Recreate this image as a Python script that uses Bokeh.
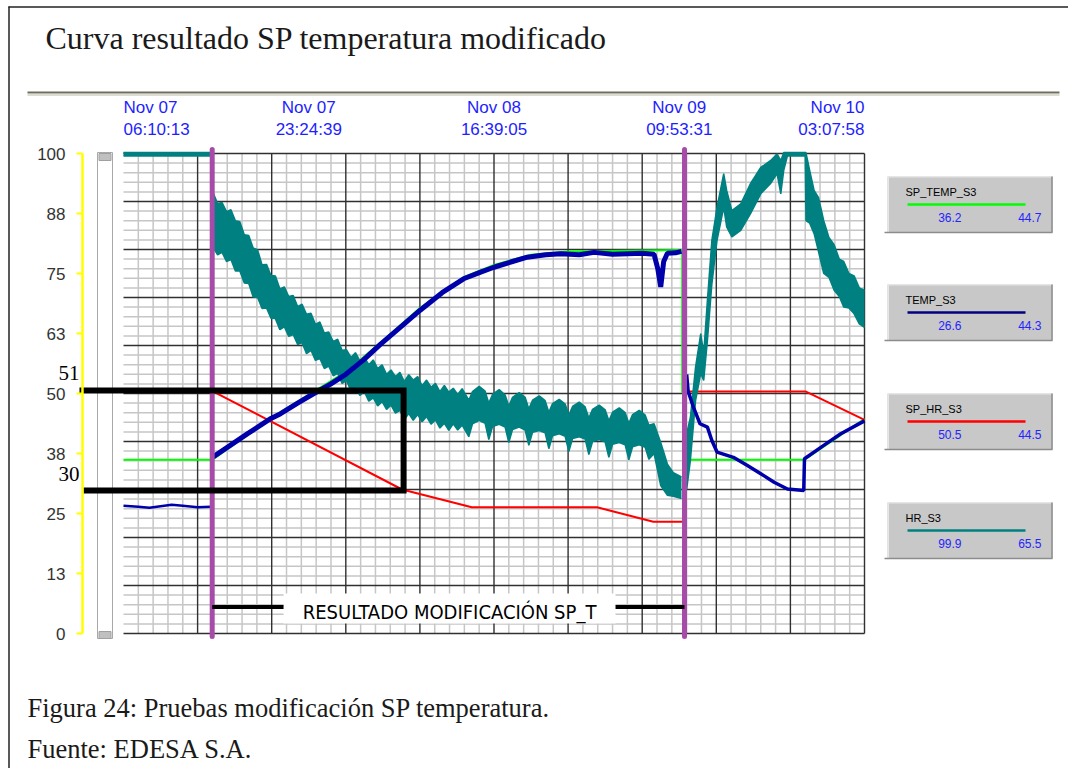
import numpy as np
from bokeh.plotting import figure
from bokeh.models import Range1d, LinearAxis, FixedTicker, NumeralTickFormatter
from bokeh.core.properties import value
from bokeh.embed import file_html
from bokeh.resources import INLINE

# ---------------- data ----------------
TITLE = "Curva resultado SP temperatura modificado"
CAPTION = "Figura 24: Pruebas modificación SP temperatura."
SOURCE = "Fuente: EDESA S.A."

# time axis (grid units 0..10), label positions and texts
TIME_POS = [0, 2.5, 5, 7.5, 10]
TIME_LABELS = ["Nov 07\n06:10:13", "Nov 07\n23:24:39", "Nov 08\n16:39:05",
               "Nov 09\n09:53:31", "Nov 10\n03:07:58"]
Y_TICKS = [0, 12.5, 25, 37.5, 50, 62.5, 75, 87.5, 100]

SERIES = ["SP_TEMP_S3", "TEMP_S3", "SP_HR_S3", "HR_S3"]
LEG_START = [36.2, 26.6, 50.5, 99.9]
LEG_END = [44.7, 44.3, 44.5, 65.5]

# SP_TEMP_S3 (set point temperature)
SP_TEMP_X = [0, 1.2, 2.0, 3.0, 3.5, 4.0, 4.6, 5.0, 5.5, 6.0, 7.54, 7.54, 7.58, 7.6, 9.19, 10.0]
SP_TEMP_Y = [36.2, 36.2, 45.0, 54.5, 61.0, 67.8, 74.3, 76.8, 78.9, 79.6, 79.9, 50.2, 50.2,
             36.2, 36.2, 44.7]

# TEMP_S3 (measured temperature), three stretches
TEMP_X1 = [0, 0.2, 0.35, 0.5, 0.65, 0.8, 1.0, 1.18]
TEMP_Y1 = [26.6, 26.4, 26.2, 26.5, 26.8, 26.6, 26.3, 26.4]
TEMP_X2 = [1.21, 1.45, 1.67, 1.99, 2.12, 2.35, 2.57, 2.8, 3.0, 3.24, 3.47, 3.75, 4.0, 4.3,
           4.59, 4.82, 5.0, 5.25, 5.45, 5.7, 5.9, 6.15, 6.35, 6.6, 6.8, 7.0, 7.16, 7.21,
           7.25, 7.29, 7.34, 7.45, 7.53]
TEMP_Y2 = [36.8, 39.3, 41.6, 44.8, 45.8, 48.0, 50.0, 52.0, 54.0, 57.0, 60.3, 64.0, 67.3, 71.0,
           73.9, 75.3, 76.3, 77.5, 78.4, 78.9, 79.1, 78.9, 79.4, 79.0, 79.1, 79.2, 79.0, 76.0,
           72.2, 77.5, 79.2, 79.3, 79.6]
TEMP_X3 = [7.6, 7.62, 7.69, 7.78, 7.88, 7.94, 8.01, 8.23, 8.42, 8.6, 8.78, 8.96, 9.18, 9.19,
           9.45, 9.68, 10.0]
TEMP_Y3 = [54.0, 50.5, 47.2, 43.7, 43.0, 40.2, 37.8, 36.7, 35.0, 33.3, 31.5, 30.1, 29.8, 36.4,
           39.2, 41.6, 44.3]

# SP_HR_S3 (set point humidity)
SP_HR_X = [0, 1.2, 3.76, 4.7, 6.39, 7.15, 7.55, 7.56, 9.21, 10.0]
SP_HR_Y = [50.5, 50.5, 30.0, 26.3, 26.3, 23.3, 23.3, 50.4, 50.4, 44.5]

# HR_S3 (measured humidity): noisy band, upper / lower envelope, three stretches
HR_X1 = [0, 1.18]
HR_HI1 = [100.2, 100.2]
HR_LO1 = [99.5, 99.5]
HR_X2 = [1.21, 1.27, 1.33, 1.39, 1.45, 1.51, 1.57, 1.63, 1.69, 1.75, 1.81, 1.87, 1.93, 1.99,
         2.05, 2.11, 2.17, 2.23, 2.29, 2.35, 2.41, 2.47, 2.53, 2.59, 2.65, 2.71, 2.77, 2.83,
         2.89, 2.95, 3.01, 3.07, 3.13, 3.19, 3.25, 3.31, 3.37, 3.43, 3.49, 3.55, 3.61, 3.67,
         3.73, 3.79, 3.85, 3.91, 3.97, 4.03, 4.09, 4.15, 4.21, 4.27, 4.33, 4.39, 4.45, 4.51,
         4.57, 4.66, 4.71, 4.80, 4.88, 4.93, 4.98, 5.07, 5.15, 5.20, 5.25, 5.34, 5.42, 5.47,
         5.52, 5.61, 5.69, 5.74, 5.79, 5.88, 5.96, 6.01, 6.06, 6.15, 6.23, 6.28, 6.33, 6.42,
         6.50, 6.55, 6.60, 6.69, 6.77, 6.82, 6.87, 6.96, 7.04, 7.09, 7.16, 7.25, 7.34, 7.42,
         7.53]
HR_HI2 = [91.8, 89.6, 89.8, 87.9, 88.3, 86.0, 85.8, 83.1, 82.9, 80.3, 79.9, 76.8, 76.9, 74.6,
          74.5, 71.8, 72.2, 70.2, 70.4, 68.1, 68.6, 66.5, 66.7, 64.4, 64.9, 62.6, 62.8, 60.8,
          61.3, 59.0, 59.1, 57.5, 58.5, 56.8, 57.6, 56.0, 57.0, 55.2, 56.0, 54.0, 54.9, 53.5,
          54.4, 52.5, 53.9, 52.8, 53.5, 51.6, 52.8, 51.3, 52.1, 50.4, 51.7, 50.3, 51.1, 49.8,
          51.0, 48.6, 50.4, 51.5, 50.5, 48.0, 49.8, 50.8, 49.7, 47.4, 49.2, 50.2, 49.2, 46.8,
          48.6, 49.5, 48.5, 46.1, 47.9, 48.8, 47.8, 45.5, 47.3, 48.2, 47.2, 44.9, 46.7, 47.6,
          46.6, 44.3, 46.1, 47.0, 46.0, 43.8, 45.6, 46.5, 45.5, 43.4, 43.7, 39.8, 35.3, 33.5,
          32.6]
HR_LO2 = [80.4, 78.9, 79.4, 77.5, 77.9, 75.5, 75.5, 73.0, 72.9, 70.1, 70.0, 67.7, 67.8, 65.7,
          65.6, 63.3, 63.9, 61.9, 62.3, 60.2, 60.6, 58.3, 59.0, 56.9, 57.3, 55.2, 55.7, 53.7,
          54.2, 52.1, 52.7, 50.5, 51.2, 49.6, 50.4, 48.4, 49.1, 47.4, 48.3, 46.7, 47.6, 45.9,
          46.5, 44.6, 45.8, 44.4, 45.6, 44.1, 45.2, 43.6, 44.5, 42.8, 43.8, 42.3, 43.7, 42.4,
          43.4, 41.0, 43.7, 44.4, 43.8, 40.4, 43.1, 43.6, 43.0, 39.8, 42.5, 43.0, 42.4, 39.2,
          41.9, 42.3, 41.8, 38.5, 41.2, 41.6, 41.1, 37.9, 40.6, 41.0, 40.5, 37.3, 40.0, 40.4,
          39.9, 36.7, 39.4, 39.8, 39.3, 36.2, 38.9, 39.3, 38.8, 36.3, 37.5, 30.8, 28.8, 28.6,
          28.1]
HR_X3 = [7.60, 7.65, 7.72, 7.79, 7.83, 7.88, 7.94, 8.01, 8.10, 8.14, 8.21, 8.33, 8.46, 8.60,
         8.73, 8.82, 8.87, 8.91, 8.96, 9.20, 9.21, 9.26, 9.32, 9.38, 9.45, 9.52, 9.59, 9.66,
         9.72, 9.79, 9.86, 9.93, 10.0]
HR_HI3 = [41.6, 45.0, 55.5, 62.5, 58.3, 69.4, 81.9, 88.8, 95.8, 92.3, 88.1, 89.5, 93.7, 97.1,
          98.5, 99.9, 98.5, 100.2, 100.2, 100.2, 100.2, 96.5, 92.3, 90.8, 86.0, 82.5, 81.0,
          78.0, 77.5, 75.0, 74.5, 72.0, 71.5]
HR_LO3 = [30.0, 36.0, 48.5, 54.2, 52.7, 61.0, 72.8, 81.9, 88.8, 84.7, 82.6, 84.0, 87.4, 91.6,
          93.7, 95.8, 91.6, 96.5, 99.5, 99.5, 86.0, 85.5, 83.3, 79.5, 75.0, 74.2, 71.5, 70.2,
          68.0, 67.8, 66.6, 64.5, 63.8]

# event markers (purple) and the highlighted band 51 / 30
EVENT_X = [1.197, 7.571]
BOX_X = [-0.594, 3.78, 3.78, -0.54]
BOX_Y = [50.6, 50.6, 29.8, 29.8]
BOX_LABELS = ["51", "30"]
ANNOT_TEXT = "RESULTADO MODIFICACIÓN SP_T"
ANNOT_Y = 5.5
ANNOT_X0 = [EVENT_X[0], 6.64]
ANNOT_X1 = [2.16, EVENT_X[1]]

COL_SP_TEMP = "#00ff00"
COL_TEMP = "#0000aa"
COL_SP_HR = "#ff0000"
COL_HR = "#008080"
LEG_COLORS = [COL_SP_TEMP, "#000080", COL_SP_HR, COL_HR]

# ---------------- layout helpers (pixel of the picture -> data) ----------------
W, H = 1068, 768
PX_X0, PX_X10 = 123.0, 864.0
PX_Y0, PX_Y100 = 633.0, 153.0


def sx(px):
    return (px - PX_X0) * 10.0 / (PX_X10 - PX_X0)


def sy(py):
    return (PX_Y0 - py) * 100.0 / (PX_Y0 - PX_Y100)


p = figure(width=W, height=H, output_backend="svg", toolbar_location=None, tools="",
           x_range=Range1d(sx(0), sx(W)), y_range=Range1d(sy(H), sy(0)),
           x_axis_location=None, y_axis_location=None, min_border=0, title=None)
p.outline_line_color = None
p.background_fill_color = "white"
p.border_fill_color = "white"
p.xgrid.visible = False
p.ygrid.visible = False

SERIF = value("Liberation Serif")
SANS = value("Liberation Sans")

# keep the top-right corner clean
p.quad(left=[sx(1054)], right=[sx(W)], top=[sy(0)], bottom=[sy(100)], fill_color="white",
       line_color=None)

# page frame (left / top) and separator
p.segment(x0=[sx(8), sx(8.5)], x1=[sx(W), sx(8.5)], y0=[sy(6.5), sy(6)],
          y1=[sy(6.5), sy(H)], line_color="#222222", line_width=1.5)
p.segment(x0=[sx(27)], x1=[sx(1059)], y0=[sy(92)], y1=[sy(92)], line_color="#6e6e60", line_width=2)
p.segment(x0=[sx(27)], x1=[sx(1059)], y0=[sy(94.5)], y1=[sy(94.5)], line_color="#dcdcd0", line_width=2)

p.text(x=[sx(45)], y=[sy(37)], text=[TITLE], text_font=SERIF, text_font_size="32px",
       text_baseline="middle", text_color="#1a1a1a")
p.text(x=[sx(27), sx(27)], y=[sy(707), sy(748)], text=[CAPTION, SOURCE], text_font=SERIF,
       text_font_size="26.5px", text_baseline="middle", text_color="#1a1a1a")

# scrollbar decoration
p.quad(left=[sx(97)], right=[sx(112)], top=[sy(152)], bottom=[sy(638)],
       fill_color="white", line_color="#a8a8a8", line_width=1)
p.quad(left=[sx(98.5), sx(98.5)], right=[sx(110.5), sx(110.5)], top=[sy(153), sy(631)],
       bottom=[sy(160), sy(638)], fill_color="#c0c0c0", line_color="#a0a0a0", line_width=1)

# grid
minor_v = [v for v in np.round(np.arange(0.2, 10.0, 0.2), 2) if abs(v - round(v)) > 1e-6]
minor_h = [v for v in np.arange(2, 100, 2) if v % 10 != 0]
p.segment(x0=minor_v, x1=minor_v, y0=0, y1=100, line_color="#c6c6c6", line_width=1.5)
p.segment(x0=0, x1=10, y0=minor_h, y1=minor_h, line_color="#c6c6c6", line_width=1.5)
major_v = list(range(1, 11))
major_h = list(range(0, 101, 10))
p.segment(x0=major_v, x1=major_v, y0=0, y1=100, line_color="#303030", line_width=1.4)
p.segment(x0=0, x1=10, y0=major_h, y1=major_h, line_color="#303030", line_width=1.4)

# white label box of the bottom annotation
p.quad(left=[ANNOT_X1[0]], right=[ANNOT_X0[1]], top=[sy(593)], bottom=[sy(623)],
       fill_color="white", line_color=None)

# series
p.line(SP_TEMP_X, SP_TEMP_Y, line_color=COL_SP_TEMP, line_width=2)
p.line(SP_HR_X, SP_HR_Y, line_color=COL_SP_HR, line_width=2)
for hx, hi, lo in [(HR_X1, HR_HI1, HR_LO1), (HR_X2, HR_HI2, HR_LO2), (HR_X3, HR_HI3, HR_LO3)]:
    p.varea(x=hx, y1=lo, y2=hi, fill_color=COL_HR)
    p.line(hx, hi, line_color=COL_HR, line_width=1.5)
    p.line(hx, lo, line_color=COL_HR, line_width=1.5)
p.line(TEMP_X1, TEMP_Y1, line_color=COL_TEMP, line_width=2.5)
p.line(TEMP_X2, TEMP_Y2, line_color=COL_TEMP, line_width=5)
p.line(TEMP_X3, TEMP_Y3, line_color=COL_TEMP, line_width=3.5)

# event markers
p.segment(x0=EVENT_X, x1=EVENT_X, y0=sy(636), y1=sy(149), line_color="#a64ca8",
          line_width=5, line_cap="round")

# highlighted band
p.line(BOX_X, BOX_Y, line_color="black", line_width=6, line_join="miter")
p.text(x=[BOX_X[0], BOX_X[0]], y=[BOX_Y[0] + 18 / 4.8, BOX_Y[2] + 16 / 4.8], text=BOX_LABELS,
       text_font=SERIF, text_font_size="21px", text_align="right", text_baseline="middle",
       text_color="black")

# bottom annotation
p.segment(x0=ANNOT_X0, x1=ANNOT_X1, y0=ANNOT_Y, y1=ANNOT_Y, line_color="black", line_width=4)
p.text(x=[(ANNOT_X1[0] + ANNOT_X0[1]) / 2], y=[sy(611)], text=[ANNOT_TEXT],
       text_font=value("'Liberation Sans Narrow', 'DejaVu Sans Condensed', sans-serif"),
       text_font_size="20px", text_align="center", text_baseline="middle", text_color="black")

# time labels above the grid
ty = sy(118.3)
for idx, align in [([0], "left"), ([1, 2, 3], "center"), ([4], "right")]:
    p.text(x=[TIME_POS[i] for i in idx], y=[ty] * len(idx), text=[TIME_LABELS[i] for i in idx],
           text_font=SANS, text_font_size="17px", text_align=align, text_baseline="middle",
           text_line_height=1.18, text_color="#1e1eff")

# y axis (yellow)
yaxis = LinearAxis(fixed_location=sx(82), bounds=(0, 100), ticker=FixedTicker(ticks=Y_TICKS),
                   formatter=NumeralTickFormatter(format="0"))
yaxis.axis_line_color = "#ffff00"
yaxis.axis_line_width = 2.5
yaxis.major_tick_line_color = "#ffff00"
yaxis.major_tick_line_width = 2
yaxis.major_tick_in = 0
yaxis.major_tick_out = 6
yaxis.minor_tick_line_color = None
yaxis.major_label_text_font = "Liberation Sans"
yaxis.major_label_text_font_size = "17px"
yaxis.major_label_text_color = "#333333"
yaxis.major_label_standoff = 11
p.add_layout(yaxis, "left")

# legend panels
LEG_TOP = [176, 284, 393, 502]
for i, name in enumerate(SERIES):
    t = LEG_TOP[i]
    p.quad(left=[sx(887)], right=[sx(1052)], top=[sy(t)], bottom=[sy(t + 56)],
           fill_color="#c8c8c8", line_color=None)
    p.segment(x0=[sx(887), sx(888)], x1=[sx(1052), sx(888)], y0=[sy(t + 0.5), sy(t)],
              y1=[sy(t + 0.5), sy(t + 56)], line_color="#e6e6e6", line_width=1)
    p.segment(x0=[sx(884), sx(1051.5)], x1=[sx(1052), sx(1051.5)], y0=[sy(t + 56), sy(t)],
              y1=[sy(t + 56), sy(t + 56)], line_color="#8c8c8c", line_width=1.5)
    p.text(x=[sx(905)], y=[sy(t + 15)], text=[name], text_font=SANS, text_font_size="11px",
           text_baseline="middle", text_color="black")
    p.segment(x0=[sx(907)], x1=[sx(1025)], y0=[sy(t + 28)], y1=[sy(t + 28)],
              line_color=LEG_COLORS[i], line_width=2.5)
    p.text(x=[sx(961), sx(1041)], y=[sy(t + 41)] * 2,
           text=[f"{LEG_START[i]:.1f}", f"{LEG_END[i]:.1f}"], text_font=SANS,
           text_font_size="12px", text_align="right", text_baseline="middle", text_color="#2424ff")

open("out.html", "w").write(file_html(p, INLINE))
